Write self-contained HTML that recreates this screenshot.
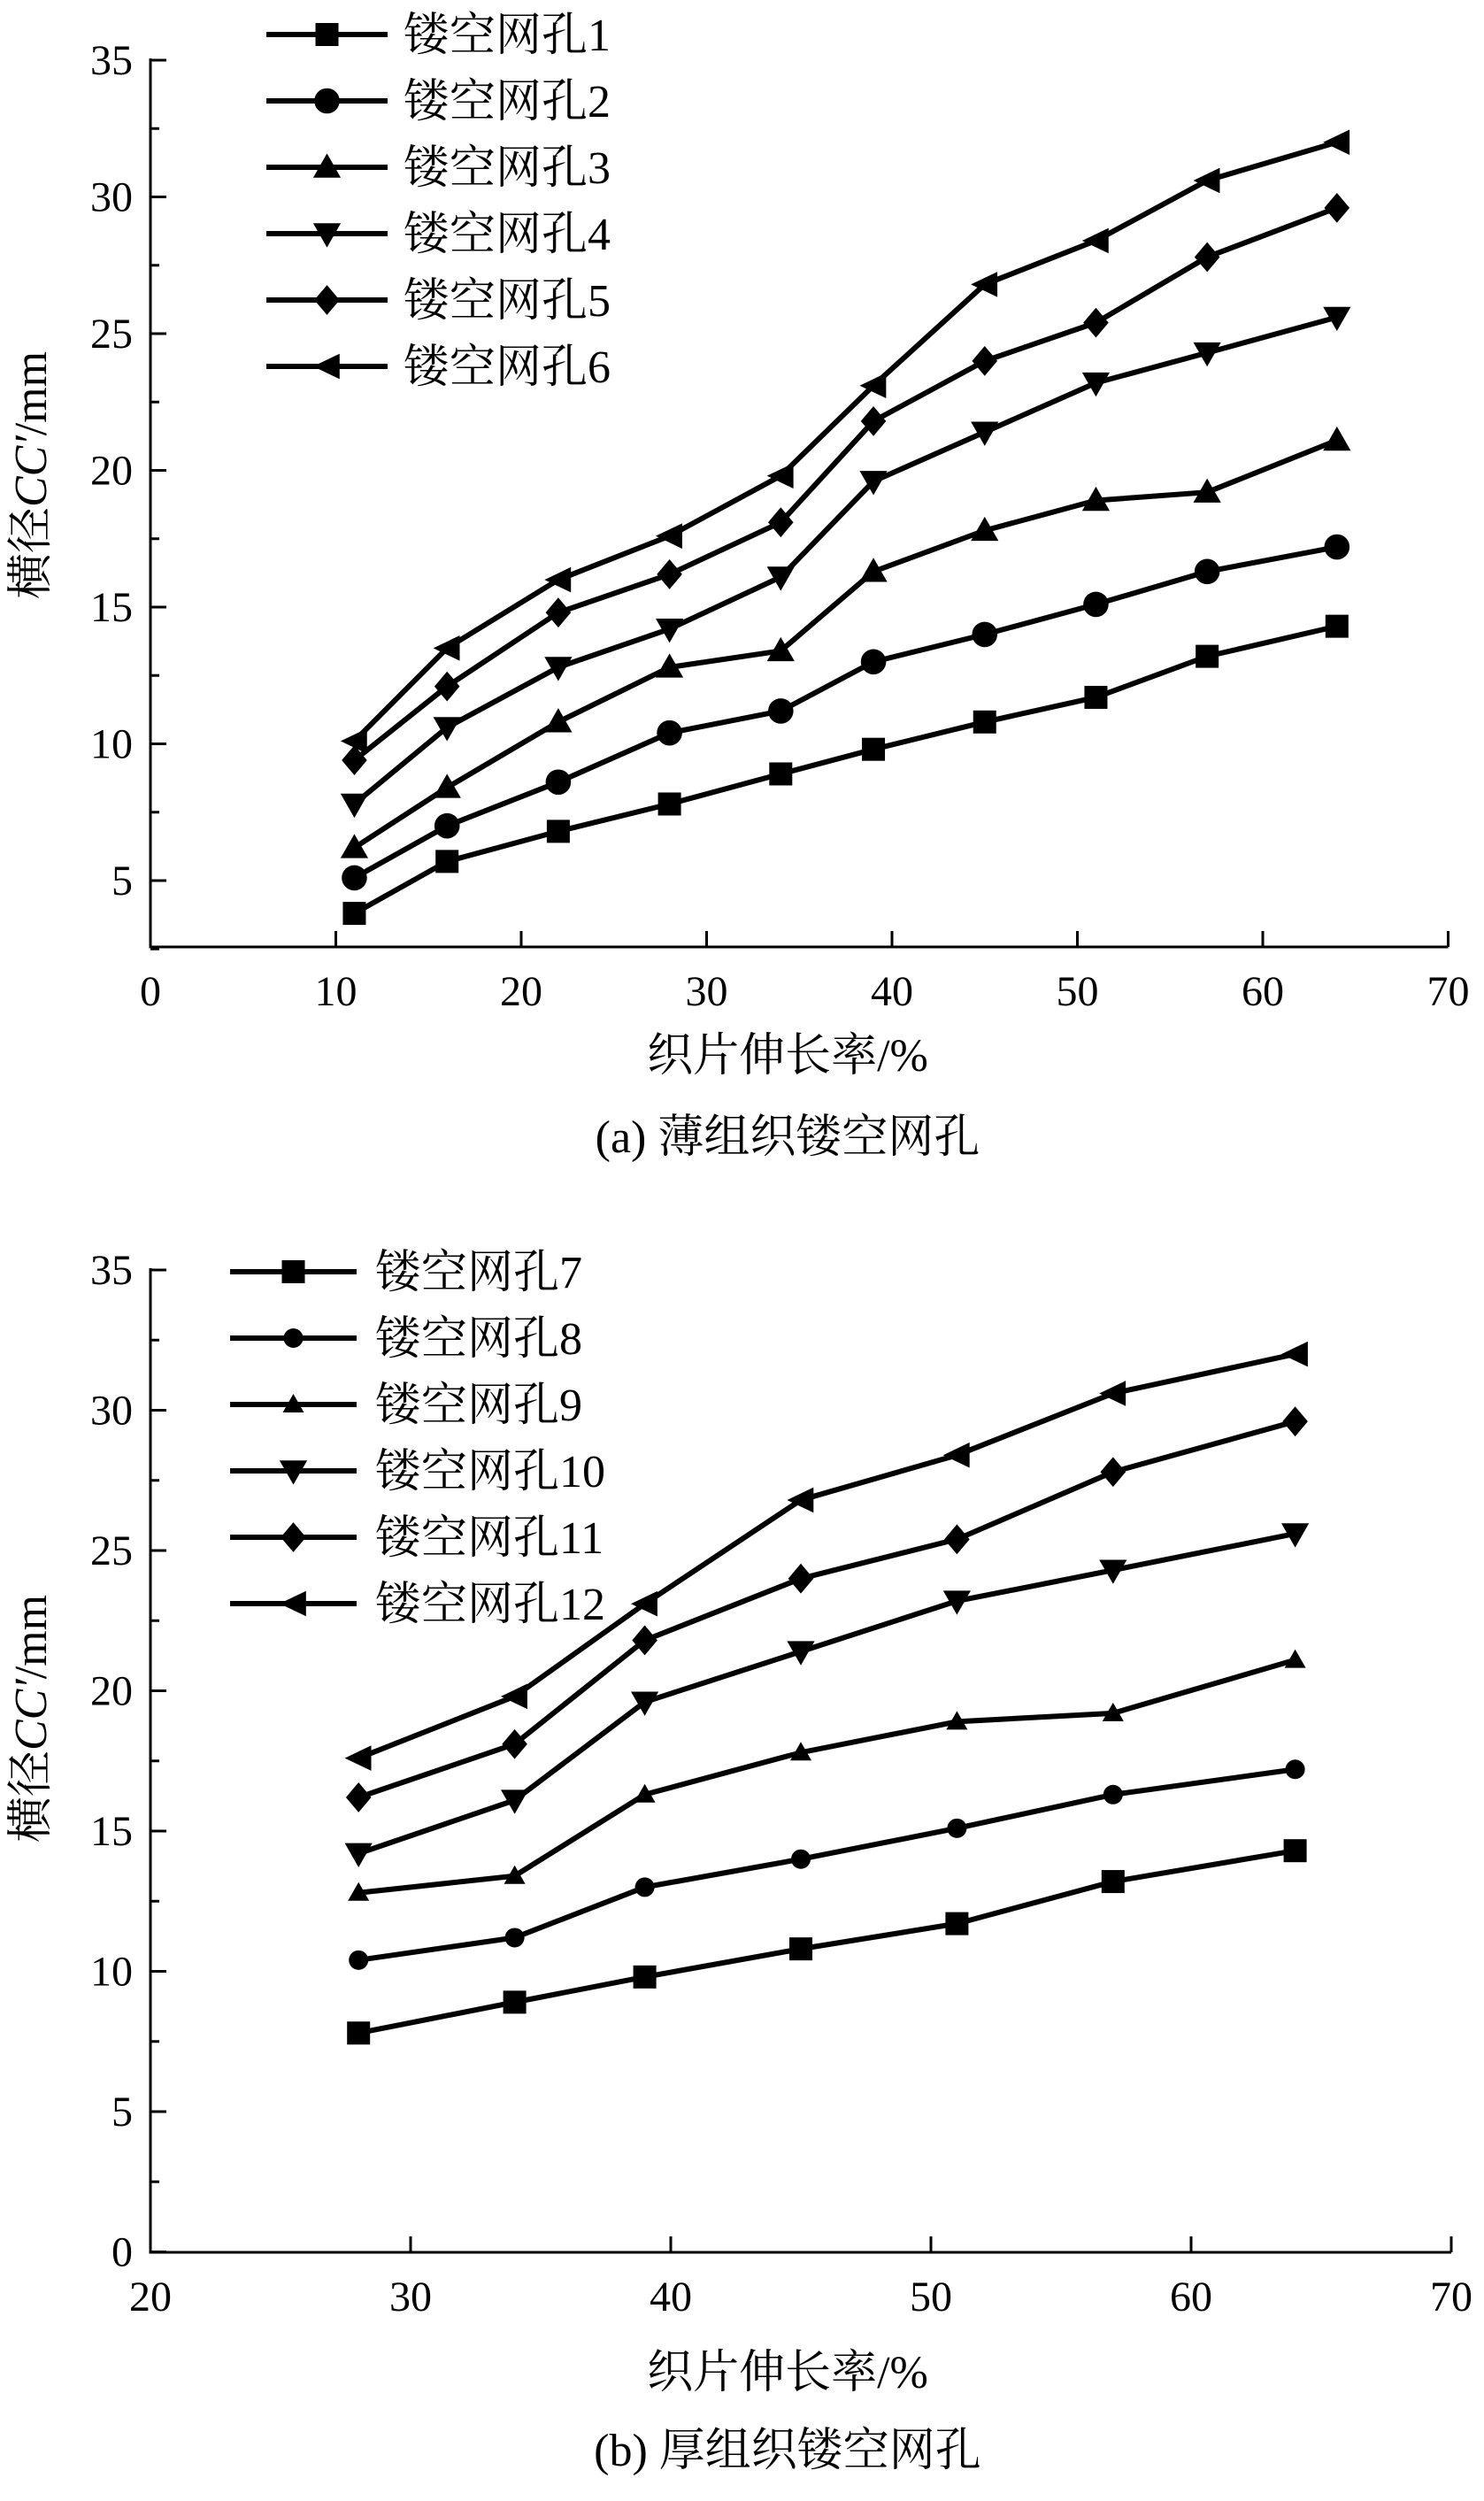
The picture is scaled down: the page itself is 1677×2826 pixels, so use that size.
<!DOCTYPE html>
<html><head><meta charset="utf-8"><style>
html,body{margin:0;padding:0;background:#fff;}
svg text{font-family:"Liberation Serif","Noto Serif CJK SC",serif;fill:#000;}
</style></head><body>
<svg id="s" xmlns="http://www.w3.org/2000/svg" width="1677" height="2821" viewBox="0 0 1677 2821"></svg>
<script>
const S=document.getElementById('s');let h='';
const xs=[11,16,22,28,34,39,45,51,57,64];
const D=[[3.8,5.7,6.8,7.8,8.9,9.8,10.8,11.7,13.2,14.3],
[5.1,7.0,8.6,10.4,11.2,13.0,14.0,15.1,16.3,17.2],
[6.2,8.4,10.8,12.8,13.4,16.3,17.8,18.9,19.2,21.1],
[7.8,10.6,12.8,14.2,16.1,19.6,21.4,23.2,24.3,25.6],
[9.4,12.1,14.8,16.2,18.1,21.8,24.0,25.4,27.8,29.6],
[10.1,13.5,16.0,17.6,19.8,23.1,26.8,28.4,30.6,32.0]];
function mk(t,x,y,r){
 if(t==0)return `<rect x="${x-r}" y="${y-r}" width="${2*r}" height="${2*r}"/>`;
 if(t==1)return `<circle cx="${x}" cy="${y}" r="${r*1.1}"/>`;
 if(t==2)return `<polygon points="${x},${y-r*1.2} ${x-r*1.2},${y+r*0.9} ${x+r*1.2},${y+r*0.9}"/>`;
 if(t==3)return `<polygon points="${x},${y+r*1.2} ${x-r*1.2},${y-r*0.9} ${x+r*1.2},${y-r*0.9}"/>`;
 if(t==4)return `<polygon points="${x},${y-r*1.3} ${x+r*1.1},${y} ${x},${y+r*1.3} ${x-r*1.1},${y}"/>`;
 return `<polygon points="${x-r*1.2},${y} ${x+r*1.1},${y-r*1.1} ${x+r*1.1},${y+r*1.1}"/>`;
}
function chart(o){
 const X=v=>o.x0+(v-o.xmin)*o.px, Y=v=>o.y35+(35-v)*o.py;
 const yb=o.ybot;
 h+=`<g stroke="#000" stroke-width="3" fill="none"><path d="M${o.x0} ${Y(35)-2}V${yb}H${X(70)}"/>`;
 for(let v=o.xmin;v<=70;v+=10)h+=`<path d="M${X(v)} ${yb}v-18"/>`;
 for(let v=o.ymin;v<=35;v+=2.5){const big=(v%5==0);h+=`<path d="M${o.x0} ${Y(v)}h${big?18:10}"/>`;}
 h+=`</g>`;
 for(let v=o.xmin;v<=70;v+=10)h+=`<text x="${X(v)}" y="${yb+66}" font-size="48" text-anchor="middle">${v}</text>`;
 for(let v=o.ylab;v<=35;v+=5)h+=`<text x="${o.x0-20}" y="${Y(v)+16}" font-size="48" text-anchor="end">${v}</text>`;
 h+=`<text transform="translate(${o.ylx},${o.yly}) rotate(-90)" font-size="52" text-anchor="middle">横径<tspan font-style="italic">CC′</tspan>/mm</text>`;
 h+=`<text x="${o.tx}" y="${o.ty}" font-size="52" text-anchor="middle">织片伸长率/%</text>`;
 h+=`<text x="${o.tx}" y="${o.cy}" font-size="52" text-anchor="middle">${o.cap}</text>`;
 for(let s=0;s<6;s++){
  const pts=[];for(let i=o.start;i<10;i++)pts.push([X(xs[i]),Y(D[s][i])]);
  h+=`<polyline points="${pts.map(p=>p.join(',')).join(' ')}" fill="none" stroke="#000" stroke-width="6"/>`;
  const r=o.small&&(s==1||s==2)?10:13;
  h+=`<g fill="#000">${pts.map(p=>mk(s,p[0],p[1],r)).join('')}</g>`;
  const ly=o.ly0+s*75;
  h+=`<line x1="${o.lx1}" x2="${o.lx2}" y1="${ly}" y2="${ly}" stroke="#000" stroke-width="6"/><g fill="#000">${mk(s,(o.lx1+o.lx2)/2,ly,r)}</g>`;
  h+=`<text x="${o.lt}" y="${ly+18}" font-size="52">镂空网孔${o.n0+s}</text>`;
 }
}
chart({x0:170,xmin:0,px:20.95,y35:68,py:30.9,ymin:2.5,ylab:5,ybot:1070,start:0,ylx:52,yly:537,tx:890,ty:1210,cy:1302,cap:"(a) 薄组织镂空网孔",lx1:301,lx2:438,ly0:39,lt:456,n0:1,small:false});
chart({x0:170,xmin:20,px:29.4,y35:1435,py:31.7,ymin:0,ylab:0,ybot:2545,start:3,ylx:52,yly:1942,tx:890,ty:2698,cy:2786,cap:"(b) 厚组织镂空网孔",lx1:260,lx2:403,ly0:1437,lt:424,n0:7,small:true});
S.innerHTML=h;
</script>
</body></html>
